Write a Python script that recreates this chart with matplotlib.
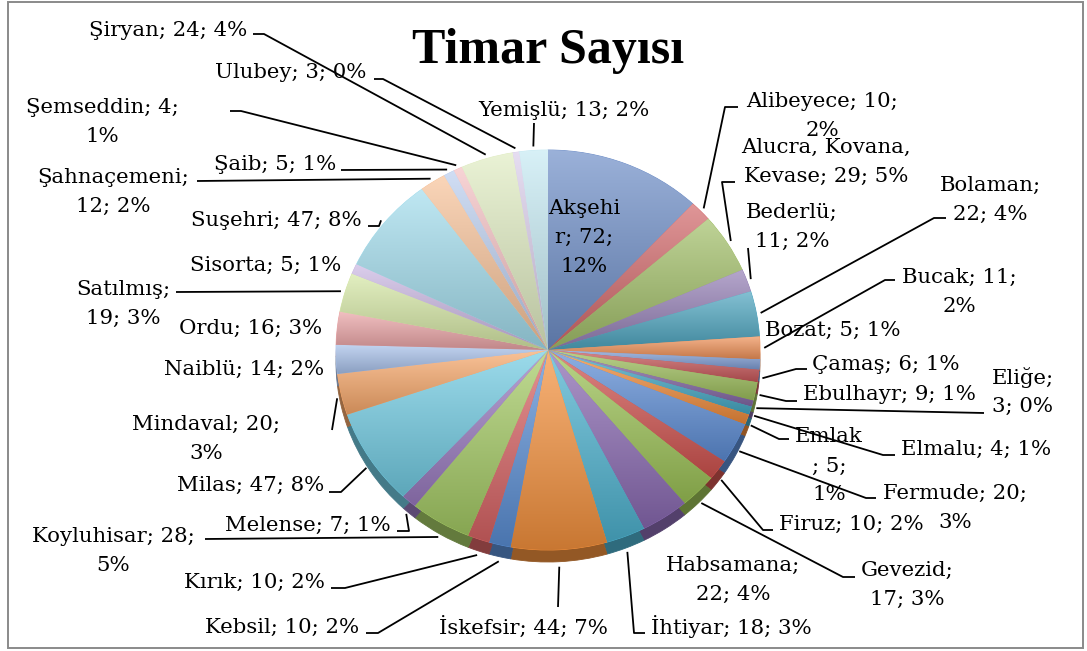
import matplotlib
matplotlib.use("Agg")
import matplotlib.pyplot as plt
import numpy as np
from matplotlib.colors import to_rgb
from matplotlib.patches import Rectangle

# ---------------- data ----------------
title = "Timar Sayısı"
names = ["Akşehir", "Alibeyece", "Alucra, Kovana, Kevase", "Bederlü", "Bolaman",
         "Bucak", "Bozat", "Çamaş", "Ebulhayr", "Eliğe", "Elmalu", "Emlak",
         "Fermude", "Firuz", "Gevezid", "Habsamana", "İhtiyar", "İskefsir",
         "Kebsil", "Kırık", "Koyluhisar", "Melense", "Milas", "Mindaval",
         "Naiblü", "Ordu", "Satılmış", "Sisorta", "Suşehri", "Şahnaçemeni",
         "Şaib", "Şemseddin", "Şiryan", "Ulubey", "Yemişlü"]
values = [72, 10, 29, 11, 22, 11, 5, 6, 9, 3, 4, 5, 20, 10, 17, 22, 18, 44,
          10, 10, 28, 7, 47, 20, 14, 16, 19, 5, 47, 12, 5, 4, 24, 3, 13]
colors = ["#6F8FC8", "#D2696B", "#A3C06A", "#9580B6", "#4FA6C0", "#F0935A",
          "#7E9CD3", "#C8585A", "#9DBE5C", "#8468A6", "#45A8C4", "#F08C3C",
          "#5E8ED6", "#D0534F", "#9CC256", "#8A6AB2", "#4EB3D0", "#F5923E",
          "#5B8FD5", "#D86465", "#A5CB65", "#9A7BC0", "#72CCE3", "#F7A86B",
          "#A9C2EB", "#EBA5A7", "#D6E8A6", "#CBB8E3", "#A3DDED", "#F8C39A",
          "#BCCFEF", "#F4C1C3", "#E1EDC3", "#DBCFEB", "#C6EAF3"]

# ---------------- layout (pixel positions of labels / leader elbows) ----------------
# name: (x, y, ha, word groups per line, char cut of first line, leader points)
layout = {
    "Akşehir": (584, 235, "center", (2, 1), 6, []),
    "Alibeyece": (822, 114, "center", (2, 1), None, [(725, 107), (738, 107)]),
    "Alucra, Kovana, Kevase": (826, 160, "center", (2, 3), None, [(722, 182), (735, 182)]),
    "Bederlü": (792, 225, "center", (1, 2), None, [(748, 248)]),
    "Bolaman": (990, 198, "center", (1, 2), None, [(934, 218), (946, 218)]),
    "Bucak": (959, 290, "center", (2, 1), None, [(885, 280), (895, 280)]),
    "Bozat": (765, 328, "left", (3,), None, []),
    "Çamaş": (812, 362, "left", (3,), None, [(796, 369), (807, 369)]),
    "Ebulhayr": (803, 392, "left", (3,), None, [(786, 401), (797, 401)]),
    "Eliğe": (1023, 390, "center", (1, 2), None, [(984, 413)]),
    "Elmalu": (901, 447, "left", (3,), None, [(883, 455), (895, 455)]),
    "Emlak": (829, 464, "center", (2, 1), 5, [(779, 439), (789, 439)]),
    "Fermude": (955, 506, "center", (2, 1), None, [(866, 498), (876, 498)]),
    "Firuz": (779, 522, "left", (3,), None, [(763, 530), (773, 530)]),
    "Gevezid": (907, 583, "center", (1, 2), None, [(843, 577), (855, 577)]),
    "Habsamana": (733, 578, "center", (1, 2), None, []),
    "İhtiyar": (651, 625, "left", (3,), None, [(634, 633), (645, 633)]),
    "İskefsir": (523, 625, "center", (3,), None, [(558, 607)]),
    "Kebsil": (359, 625, "right", (3,), None, [(378, 633), (366, 633)]),
    "Kırık": (325, 580, "right", (3,), None, [(345, 588), (331, 588)]),
    "Koyluhisar": (113, 549, "center", (2, 1), None, [(205, 539)]),
    "Melense": (391, 523, "right", (3,), None, [(409, 531), (397, 531)]),
    "Milas": (324, 483, "right", (3,), None, [(341, 492), (329, 492)]),
    "Mindaval": (206, 437, "center", (2, 1), None, [(332, 430)]),
    "Naiblü": (324, 367, "right", (3,), None, []),
    "Ordu": (322, 326, "right", (3,), None, []),
    "Satılmış": (123, 302, "center", (1, 2), None, [(176, 292)]),
    "Sisorta": (341, 263, "right", (3,), None, []),
    "Suşehri": (362, 218, "right", (3,), None, [(379, 226), (368, 226)]),
    "Şahnaçemeni": (113, 190, "center", (1, 2), None, [(197, 181)]),
    "Şaib": (336, 162, "right", (3,), None, [(341, 170)]),
    "Şemseddin": (102, 120, "center", (2, 1), None, [(241, 111), (230, 111)]),
    "Şiryan": (247, 28, "right", (3,), None, [(264, 34), (253, 34)]),
    "Ulubey": (366, 70, "right", (3,), None, [(383, 79), (374, 79)]),
    "Yemişlü": (478, 108, "left", (3,), None, [(534, 123)]),
}

W, H = 1087, 651
PIE_CX, PIE_CY, RX, RY = 548, 350, 212, 200
DEPTH = 0.06
FONT = "DejaVu Serif"
FS = 15.3
LINE_PITCH = 29


def mix(c, other, t):
    c = np.array(to_rgb(c))
    return tuple(c * (1 - t) + np.array(other) * t)


def wrap(s, groups, cut):
    words = s.split(" ")
    lines, i = [], 0
    for g in groups:
        lines.append(" ".join(words[i:i + g]))
        i += g
    if cut is not None:
        lines = [lines[0][:cut], lines[0][cut:]] + lines[1:]
    return lines


fig = plt.figure(figsize=(W / 100, H / 100), dpi=100)
fig.patch.set_facecolor("white")

ax = fig.add_axes([(PIE_CX - RX) / W, (H - (PIE_CY + RY)) / H, 2 * RX / W, 2 * RY / H])
dark = [mix(c, (0, 0, 0), 0.4) for c in colors]
wd, _ = ax.pie(values, colors=dark, startangle=90, counterclock=False,
               center=(0, -DEPTH), wedgeprops=dict(linewidth=0.6))
for w in wd:
    w.set_edgecolor(w.get_facecolor())
wedges, _ = ax.pie(values, colors=colors, startangle=90, counterclock=False,
                   wedgeprops=dict(linewidth=0.6))
for w, c in zip(wedges, colors):
    w.set_edgecolor(c)
    top = mix(c, (1, 1, 1), 0.3)
    bot = mix(c, (0, 0, 0), 0.18)
    grad = np.linspace(0, 1, 64)[:, None, None]
    img = np.array(top)[None, None, :] * (1 - grad) + np.array(bot)[None, None, :] * grad
    bb = w.get_path().get_extents(w.get_patch_transform())
    im = ax.imshow(img, extent=(bb.x0, bb.x1, bb.y0, bb.y1), origin="upper",
                   aspect="auto", interpolation="bilinear", zorder=w.get_zorder() + 0.1)
    im.set_clip_path(w)
ax.set_aspect("auto")
ax.set_xlim(-1, 1)
ax.set_ylim(-1, 1)
ax.axis("off")

# overlay in pixel coordinates
ov = fig.add_axes([0, 0, 1, 1])
ov.set_xlim(0, W)
ov.set_ylim(H, 0)
ov.axis("off")
ov.patch.set_alpha(0)

ov.add_patch(Rectangle((8, 1.5), 1075, 646.5, fill=False, edgecolor="#8a8a8a", lw=1.4))
ov.text(548, 51, title, ha="center", va="center", fontsize=36, fontweight="bold",
        family="Liberation Serif")

total = sum(values)
cum = np.concatenate([[0], np.cumsum(values)])
to_px = ax.transData + ov.transData.inverted()
for i, (n, v) in enumerate(zip(names, values)):
    x, y, ha, groups, cut, pts = layout[n]
    pct = int(round(100 * v / total))
    lines = wrap(f"{n}; {v}; {pct}%", groups, cut)
    k = len(lines)
    for j, line in enumerate(lines):
        ov.text(x, y + (j - (k - 1) / 2) * LINE_PITCH, line, ha=ha, va="center_baseline",
                fontsize=FS, family=FONT)
    if pts:
        theta = np.deg2rad((cum[i] + cum[i + 1]) / 2 / total * 360)
        px, py = np.sin(theta), np.cos(theta)
        r = 1.02
        ay = py * r if py > 0 else py * 1.085
        anchor = to_px.transform((px * r, ay))
        xs = [anchor[0]] + [p[0] for p in pts]
        ys = [anchor[1]] + [p[1] for p in pts]
        ov.plot(xs, ys, color="black", lw=1.3, solid_capstyle="butt")

fig.savefig("out.png", dpi=100, facecolor="white")
